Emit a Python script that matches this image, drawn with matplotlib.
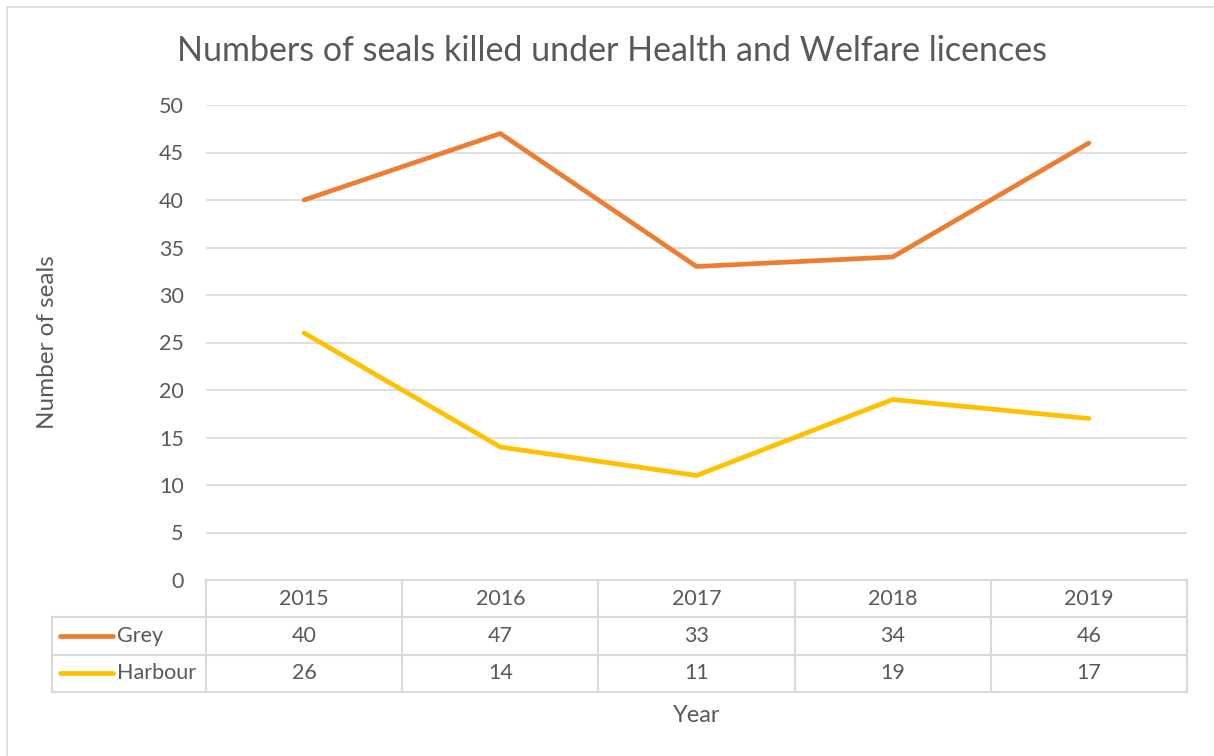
import matplotlib.pyplot as plt
from matplotlib.patches import Rectangle
import numpy as np

years = ['2015', '2016', '2017', '2018', '2019']
grey = [40, 47, 33, 34, 46]
harbour = [26, 14, 11, 19, 17]
series_names = ['Grey', 'Harbour']
colors = ['#ED7D31', '#FFC000']

plt.rcParams['font.family'] = ['Lato', 'DejaVu Sans']
text_col = '#595959'
grid_col = '#d9d9d9'
fs = 15.5
lw = 3.4

W, H = 1214, 756
fig = plt.figure(figsize=(W / 100, H / 100), dpi=100)

# main plot area (pixel positions from the reference)
ax = fig.add_axes([206 / W, 1 - 580 / H, (1187 - 206) / W, (580 - 105) / H])
x = np.arange(len(years))
ax.plot(x, grey, color=colors[0], lw=lw, solid_capstyle='round', solid_joinstyle='round')
ax.plot(x, harbour, color=colors[1], lw=lw, solid_capstyle='round', solid_joinstyle='round')
ax.set_xlim(-0.5, len(years) - 0.5)
ax.set_ylim(0, 50)
ax.set_yticks(np.arange(0, 51, 5))
ax.set_xticks([])
ax.grid(axis='y', color=grid_col, lw=1.2)
ax.set_axisbelow(True)
for s in ax.spines.values():
    s.set_visible(False)
ax.tick_params(axis='y', length=0, pad=16, labelsize=fs, labelcolor=text_col)
ax.set_ylabel('Number of seals', fontsize=17.5, color=text_col, labelpad=0)
ax.yaxis.set_label_coords(-148 / (1187 - 206), 0.5)

ax.set_title('Numbers of seals killed under Health and Welfare licences',
             fontsize=24.5, color=text_col, pad=32)
ax.title.set_position((406 / (1187 - 206), 1))

# data table under the plot
tab = fig.add_axes([206 / W, 1 - 692 / H, (1187 - 206) / W, (692 - 580) / H], sharex=ax)
tab.set_ylim(3, 0)
tab.axis('off')
leg_left = -0.5 - (206 - 52) / 196.2
for i in range(len(years) + 1):
    tab.plot([i - 0.5, i - 0.5], [0, 3], color=grid_col, lw=1.5, clip_on=False)
tab.plot([-0.5, len(years) - 0.5], [0, 0], color=grid_col, lw=1.5, clip_on=False)
for r in [1, 2, 3]:
    tab.plot([leg_left, len(years) - 0.5], [r, r], color=grid_col, lw=1.5, clip_on=False)
tab.plot([leg_left, leg_left], [1, 3], color=grid_col, lw=1.5, clip_on=False)

for i, yr in enumerate(years):
    tab.text(i, 0.5, yr, ha='center', va='center', fontsize=fs, color=text_col)
for r, vals in enumerate([grey, harbour]):
    yy = r + 1.5
    for i, v in enumerate(vals):
        tab.text(i, yy, str(v), ha='center', va='center', fontsize=fs, color=text_col)
    tab.plot([leg_left + 8 / 196.2, leg_left + 61 / 196.2], [yy, yy], color=colors[r],
             lw=lw, solid_capstyle='round', clip_on=False)
    tab.text(leg_left + 65 / 196.2, yy, series_names[r], ha='left', va='center',
             fontsize=fs, color=text_col)

fig.text(697 / W, 1 - 716 / H, 'Year', ha='center', va='center', fontsize=17, color=text_col)

# chart border
fig.add_artist(Rectangle((7 / W, -0.05), 1.1, 1 - 7 / H + 0.05, transform=fig.transFigure,
                         fill=False, edgecolor=grid_col, lw=1.2))

fig.savefig('out.png', dpi=100)
